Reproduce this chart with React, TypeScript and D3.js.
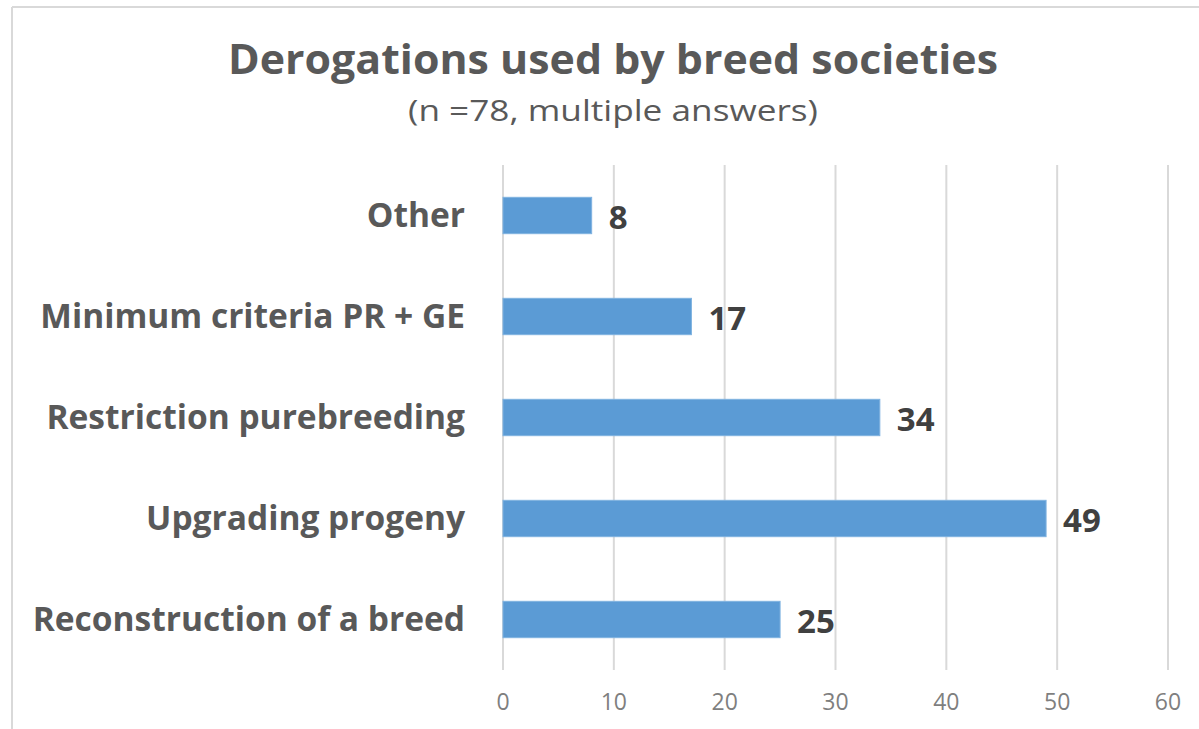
import React from "react";
import * as d3 from "d3";

const categories = [
  "Other",
  "Minimum criteria PR + GE",
  "Restriction purebreeding",
  "Upgrading progeny",
  "Reconstruction of a breed",
];
const values = [8, 17, 34, 49, 25];
const ticks = [0, 10, 20, 30, 40, 50, 60];
const title = "Derogations used by breed societies";
const subtitle = "(n =78, multiple answers)";

export default function App() {
  const W = 1199;
  const H = 729;
  const x = d3.scaleLinear().domain([0, 60]).range([503, 1168]);
  const y = d3
    .scaleBand<string>()
    .domain(categories)
    .range([165, 670])
    .paddingInner(0.64)
    .paddingOuter(0.32);
  const font = "'Open Sans', 'Noto Sans', sans-serif";
  return (
    <svg
      width={W}
      height={H}
      style={{ position: "absolute", left: 0, top: 0, background: "#fff" }}
    >
      <rect x={0} y={0} width={W} height={H} fill="#fff" />
      <line x1={12} y1={7} x2={W} y2={7} stroke="#d9d9d9" strokeWidth={2} />
      <line x1={12} y1={7} x2={12} y2={H} stroke="#d9d9d9" strokeWidth={2} />
      <text
        x={613}
        y={74}
        textAnchor="middle"
        fontFamily={font}
        fontWeight={700}
        fontSize={42}
        fill="#595959"
        textLength={770}
        lengthAdjust="spacingAndGlyphs"
      >
        {title}
      </text>
      <text
        x={613}
        y={121}
        textAnchor="middle"
        fontFamily={font}
        fontSize={30}
        fill="#595959"
        textLength={410}
        lengthAdjust="spacingAndGlyphs"
      >
        {subtitle}
      </text>
      {ticks.map((t) => (
        <g key={t}>
          <line
            x1={x(t)}
            x2={x(t)}
            y1={165}
            y2={670}
            stroke="#d9d9d9"
            strokeWidth={2}
          />
          <text
            x={x(t)}
            y={702}
            dy="0.35em"
            textAnchor="middle"
            fontFamily={font}
            fontSize={23}
            fill="#7f7f7f"
          >
            {t}
          </text>
        </g>
      ))}
      {categories.map((c, i) => {
        const yy = y(c)!;
        const bw = y.bandwidth();
        return (
          <g key={c}>
            <rect
              x={x(0)}
              y={yy}
              width={x(values[i]) - x(0)}
              height={bw}
              fill="#5b9bd5"
              stroke="#7fb2e0"
              strokeWidth={1}
            />
            <text
              x={465}
              y={yy + bw / 2}
              dy="0.35em"
              textAnchor="end"
              fontFamily={font}
              fontWeight={700}
              fontSize={33.5}
              fill="#595959"
            >
              {c}
            </text>
            <text
              x={x(values[i]) + 17}
              y={yy + bw / 2 + 2}
              dy="0.35em"
              textAnchor="start"
              fontFamily={font}
              fontWeight={700}
              fontSize={33}
              fill="#404040"
            >
              {values[i]}
            </text>
          </g>
        );
      })}
    </svg>
  );
}
